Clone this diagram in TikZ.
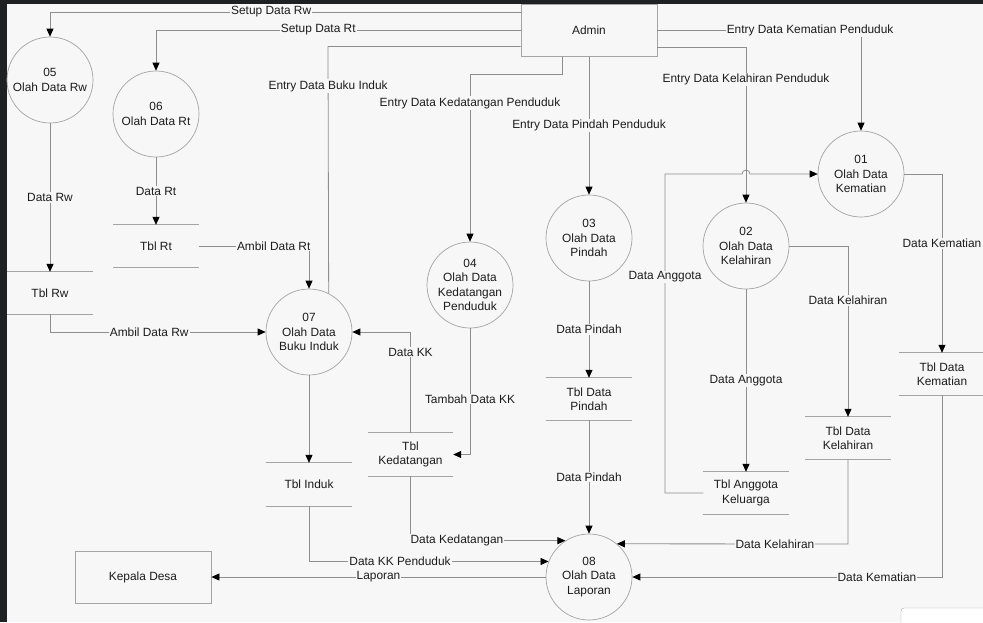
\documentclass[tikz,border=0pt]{standalone}
\usepackage{fontspec}
\setmainfont{Liberation Sans}
\usetikzlibrary{arrows.meta}
\definecolor{bg}{HTML}{F7F7F7}
\definecolor{ln}{HTML}{8E8E8E}
\definecolor{bx}{HTML}{A4A4A4}
\definecolor{frm}{HTML}{1F2022}
\definecolor{txt}{HTML}{1C1C1C}
\begin{document}
\begin{tikzpicture}[x=1pt,y=-1pt,
  every node/.style={font=\fontsize{11.9}{14.5}\selectfont, text=txt},
  line/.style={draw=ln, line width=0.8pt},
  flow/.style={line, -{Triangle[length=8pt,width=7pt,color=black]}},
  lbl/.style={fill=bg, inner sep=1pt},
  proc/.style={circle, draw=bx, line width=0.7pt, minimum size=86pt, inner sep=0pt, align=center},
  store/.style={minimum width=85pt, minimum height=42pt, inner sep=0pt, align=center},
  stline/.style={draw=bx, line width=0.8pt},
  ext/.style={draw=bx, line width=0.8pt, minimum width=136pt, minimum height=52pt}
]
\useasboundingbox (0,0) rectangle (983,622);
\fill[bg] (0,0) rectangle (983,622);
\fill[frm] (0,0) rectangle (7,622);
\fill[frm] (0,0) rectangle (983,3.5);
\begin{scope}
\clip (0,0) rectangle (983,622);
\draw[draw=bx, fill=white, rounded corners=3pt] (901,608) rectangle (1000,640);
\end{scope}

% external entities
\node[ext] (admin) at (589,30.5) {Admin};
\node[ext] (kepala) at (143,577) {Kepala Desa};

% processes
\node[proc] (c05) at (50,80) {05\\Olah Data Rw};
\node[proc] (c06) at (156,114) {06\\Olah Data Rt};
\node[proc] (c07) at (309,332) {07\\Olah Data\\Buku Induk};
\node[proc] (c04) at (470,285) {04\\Olah Data\\Kedatangan\\Penduduk};
\node[proc] (c03) at (589,238) {03\\Olah Data\\Pindah};
\node[proc] (c02) at (746,246) {02\\Olah Data\\Kelahiran};
\node[proc] (c01) at (861,174) {01\\Olah Data\\Kematian};
\node[proc] (c08) at (589,577) {08\\Olah Data\\Laporan};

% data stores
\node[store] (tRw) at (50,293) {Tbl Rw};
\node[store] (tRt) at (156,246) {Tbl Rt};
\node[store, minimum height=43pt] (tInduk) at (309,484.5) {Tbl Induk};
\node[store, minimum height=43pt] (tKedatangan) at (410.5,454.5) {Tbl\\Kedatangan};
\node[store] (tPindah) at (589,399) {Tbl Data\\Pindah};
\node[store] (tAnggota) at (746,493) {Tbl Anggota\\Keluarga};
\node[store] (tKelahiran) at (848,438) {Tbl Data\\Kelahiran};
\node[store] (tKematian) at (942,374) {Tbl Data\\Kematian};
\foreach \s in {tRw,tRt,tInduk,tKedatangan,tPindah,tAnggota,tKelahiran,tKematian}{
  \draw[stline] (\s.north west) -- (\s.north east) (\s.south west) -- (\s.south east);
}

% bend points
\coordinate (k1) at (50,12);
\coordinate (k2) at (156,30);
\coordinate (k3) at (328,46.5);
\coordinate (k4a) at (562,74);
\coordinate (k4b) at (470,74);
\coordinate (k6) at (861,30.5);
\coordinate (k7) at (746,47);
\coordinate (k8a) at (665,493);
\coordinate (k8b) at (665,174);
\coordinate (j1) at (742,174);
\coordinate (k9) at (942,174);
\coordinate (k10) at (942,577);
\coordinate (k11) at (848,246);
\coordinate (k12) at (848,544);

% connectors from Admin
\draw[flow] (admin.west |- k1) -- node[lbl,pos=0.53]{Setup Data Rw} (k1) -- (c05);
\draw[flow] (admin.west |- k2) -- node[lbl,pos=0.555]{Setup Data Rt} (k2) -- (c06);
\draw[line] (admin.west |- k3) -- (k3) -- node[lbl,pos=0.16]{Entry Data Buku Induk} (c07.63.8);
\draw[flow] (admin.south -| k4a) -- (k4a) -- (k4b) -- node[lbl,pos=0.173]{Entry Data Kedatangan Penduduk} (c04);
\draw[flow] (admin) -- node[lbl,pos=0.5]{Entry Data Pindah Penduduk} (c03);
\draw[flow] (admin) -- node[lbl,pos=0.75]{Entry Data Kematian Penduduk} (k6) -- (c01);
\draw[flow] (admin.east |- k7) -- (k7) -- node[lbl,pos=0.21]{Entry Data Kelahiran Penduduk} (c02);

% right part
\draw[flow] (tAnggota.west) -- (k8a) -- node[lbl,pos=0.677]{Data Anggota} (k8b) -- (j1) arc (180:360:4) -- (c01);
\draw[flow] (c01) -- (k9) -- node[lbl,pos=0.39]{Data Kematian} (tKematian);
\draw[flow] (tKematian) -- (k10) -- node[lbl,pos=0.21]{Data Kematian} (c08);
\draw[flow] (c02) -- (k11) -- node[lbl,pos=0.32]{Data Kelahiran} (tKelahiran);
\draw[flow] (tKelahiran) -- (k12) -- node[lbl,pos=0.316]{Data Kelahiran} (c08.50);
\draw[flow] (c02) -- node[lbl]{Data Anggota} (tAnggota);
\draw[flow] (c03) -- node[lbl]{Data Pindah} (tPindah);
\draw[flow] (tPindah) -- node[lbl]{Data Pindah} (c08);

% middle part
\draw[flow] (c04) |- node[lbl,pos=0.28]{Tambah Data KK} (tKedatangan);
\draw[flow] (tKedatangan) |- node[lbl,pos=0.4]{Data KK} (c07);
\draw[flow] (tKedatangan) |- node[lbl,pos=0.65]{Data Kedatangan} (c08.123);

% left part
\draw[flow] (c05) -- node[lbl]{Data Rw} (tRw);
\draw[flow] (tRw) |- node[lbl,pos=0.73]{Ambil Data Rw} (c07);
\draw[flow] (c06) -- node[lbl]{Data Rt} (tRt);
\draw[flow] (tRt) -| node[lbl,pos=0.34]{Ambil Data Rt} (c07);
\draw[flow] (c07) -- (tInduk);
\draw[flow] (tInduk) |- node[lbl,pos=0.69]{Data KK Penduduk} (c08.159.6);
\draw[flow] (c08) -- node[lbl]{Laporan} (kepala);
\end{tikzpicture}
\end{document}
